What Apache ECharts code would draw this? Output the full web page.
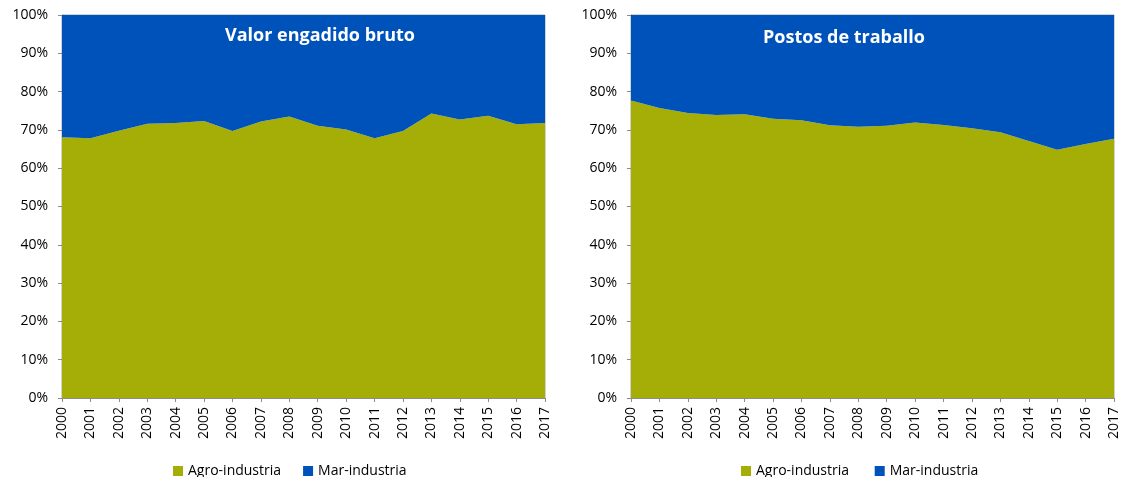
<!DOCTYPE html>
<html>
<head>
<meta charset="utf-8">
<script src="https://cdn.jsdelivr.net/npm/echarts@6/dist/echarts.min.js"></script>
<style>
  html, body { margin: 0; padding: 0; background: #fff; }
  #main { width: 1122px; height: 477px; }
</style>
</head>
<body>
<div id="main"></div>
<script>
// anos
var years = ["2000","2001","2002","2003","2004","2005","2006","2007","2008","2009",
             "2010","2011","2012","2013","2014","2015","2016","2017"];
// Valor engadido bruto - agro (%)
var vebAgro = [68.1,67.8,69.8,71.6,71.8,72.3,69.7,72.2,73.5,71.1,70.1,67.8,69.7,74.3,72.7,73.7,71.5,71.8];
// Postos de traballo - agro (%)
var empAgro = [77.7,75.7,74.4,73.9,74.1,72.9,72.5,71.2,70.8,71.1,71.9,71.3,70.4,69.4,67.1,64.8,66.3,67.7];
// mar = resto ata 100
var vebMar = vebAgro.map(function(v){ return +(100 - v).toFixed(1); });
var empMar = empAgro.map(function(v){ return +(100 - v).toFixed(1); });

var green = "#a4ae06";
var blue = "#0052bb";
var font = "'Open Sans', 'Liberation Sans', sans-serif";

function xAx(idx){
    return {
        type: "category", gridIndex: idx, data: years, boundaryGap: false,
        axisLine: { lineStyle: { color: "#8c8c8c" } },
        axisTick: { show: true, length: 4, lineStyle: { color: "#8c8c8c" } },
        axisLabel: { rotate: 90, color: "#000", fontSize: 14, fontFamily: font, margin: 9, interval: 0 }
    };
}
function yAx(idx){
    return {
        type: "value", gridIndex: idx, min: 0, max: 100, interval: 10,
        axisLine: { show: true, lineStyle: { color: "#8c8c8c" } },
        axisTick: { show: true, length: 4, lineStyle: { color: "#8c8c8c" } },
        splitLine: { show: false },
        axisLabel: { formatter: "{value}%", color: "#000", fontSize: 14, fontFamily: font, margin: 14 }
    };
}
function area(name, idx, stack, data, color){
    return {
        name: name, type: "line", xAxisIndex: idx, yAxisIndex: idx, stack: stack,
        data: data, symbol: "none", smooth: false,
        lineStyle: { width: 0 }, itemStyle: { color: color },
        areaStyle: { color: color, opacity: 1 }
    };
}

var chart = echarts.init(document.getElementById("main"));
var option = {
    animation: false,
    title: [
        { text: "Valor engadido bruto", left: 315, top: 22, textAlign: "center",
          textStyle: { color: "#fff", fontSize: 18, fontWeight: "bold", fontFamily: font } },
        { text: "Postos de traballo", left: 839, top: 24, textAlign: "center",
          textStyle: { color: "#fff", fontSize: 18, fontWeight: "bold", fontFamily: font } }
    ],
    grid: [
        { left: 62, right: 577, top: 15, bottom: 79, show: true, borderColor: "#a6a6a6", borderWidth: 1 },
        { left: 631, right: 8, top: 15, bottom: 79, show: true, borderColor: "#a6a6a6", borderWidth: 1 }
    ],
    legend: [
        { data: ["Agro-industria", "Mar-industria"], left: 168, top: 459, itemWidth: 10, itemHeight: 10,
          itemGap: 22, icon: "rect", textStyle: { fontSize: 14, color: "#000", fontFamily: font } },
        { data: ["Agro-industria ", "Mar-industria "], left: 736, top: 459, itemWidth: 10, itemHeight: 10,
          itemGap: 22, icon: "rect", textStyle: { fontSize: 14, color: "#000", fontFamily: font } }
    ],
    xAxis: [xAx(0), xAx(1)],
    yAxis: [yAx(0), yAx(1)],
    series: [
        area("Agro-industria", 0, "a", vebAgro, green),
        area("Mar-industria", 0, "a", vebMar, blue),
        area("Agro-industria ", 1, "b", empAgro, green),
        area("Mar-industria ", 1, "b", empMar, blue)
    ]
};
chart.setOption(option);
</script>
</body>
</html>
